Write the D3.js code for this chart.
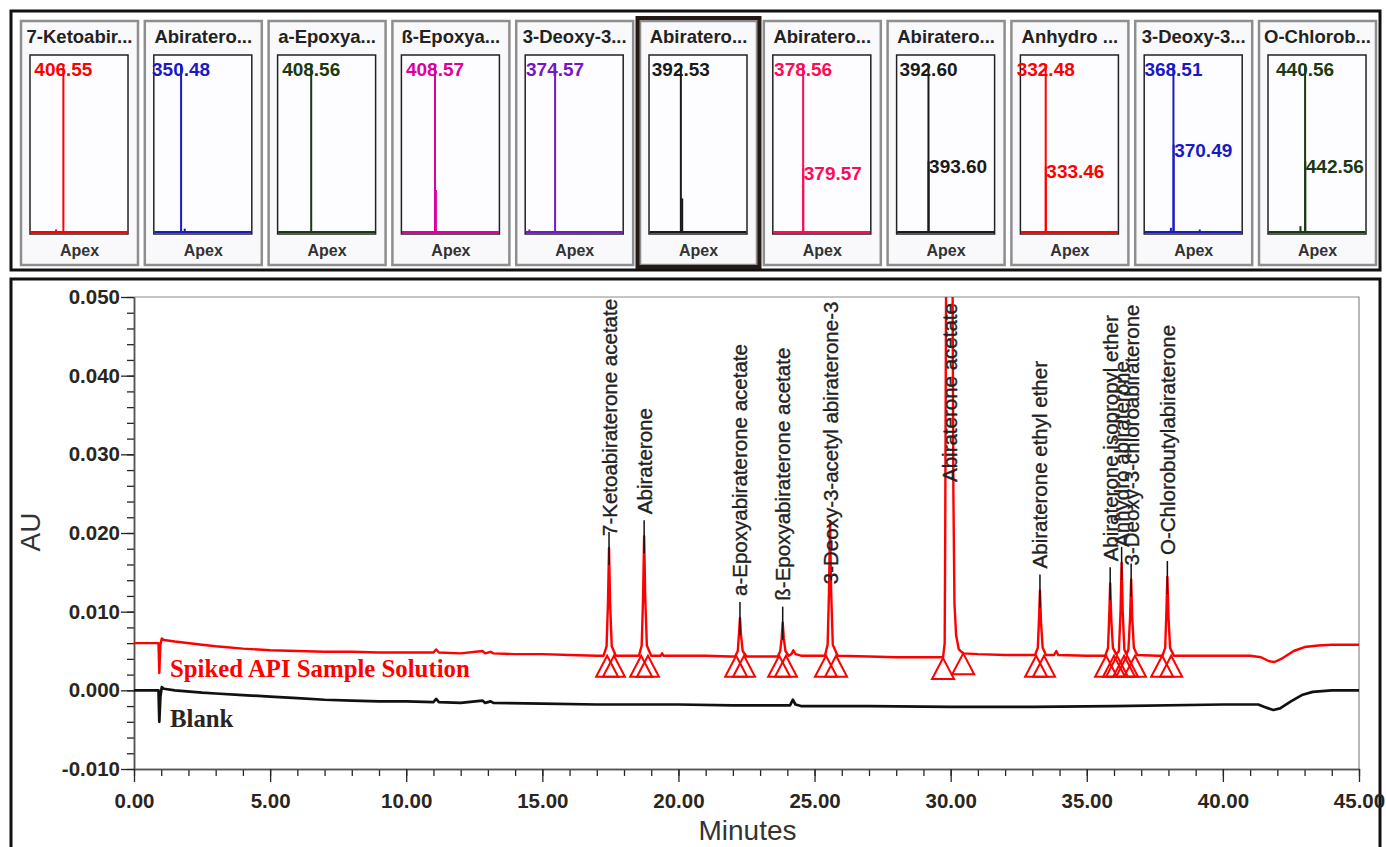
<!DOCTYPE html>
<html>
<head>
<meta charset="utf-8">
<script src="https://cdn.jsdelivr.net/npm/d3@7"></script>
<style>
  body { margin: 0; background: #fff; }
  svg { font-family: "Liberation Sans", Arial, sans-serif; }
</style>
</head>
<body>
<svg width="1386" height="847"></svg>
<script>
let svg = d3.select("svg");

// ---- spectra strip (top) ----
let spectrumTitles = ["7-Ketoabir...", "Abiratero...", "a-Epoxya...", "ß-Epoxya...", "3-Deoxy-3...",
    "Abiratero...", "Abiratero...", "Abiratero...", "Anhydro ...", "3-Deoxy-3...", "O-Chlorob..."];
let spectrumColors = ["#ff0000", "#1a1ac4", "#1c3a12", "#dc00a0", "#7418c4",
    "#1a1a1a", "#ff0a55", "#1a1a1a", "#ff0000", "#1a1ac4", "#1c3a12"];
// [m/z, relative intensity %]
let spectrumPeaks = [
    [[406.55, 100], [339, 1.5]],
    [[350.48, 100], [384, 2]],
    [[408.56, 100]],
    [[408.57, 100], [417, 25]],
    [[374.57, 100], [138, 1.5]],
    [[392.53, 100], [405, 20]],
    [[378.56, 100], [379.57, 38]],
    [[392.60, 100], [393.60, 42]],
    [[332.48, 100], [333.46, 39]],
    [[368.51, 100], [370.49, 52], [345, 2.5], [610, 1.5]],
    [[440.56, 100], [442.56, 42], [398, 3.5]]
];
let spectrumLabels = [
    [406.55], [350.48], [408.56], [408.57], [374.57], [392.53],
    [378.56, 379.57], [392.60, 393.60], [332.48, 333.46], [368.51, 370.49], [440.56, 442.56]
];
let mzRange = [100, 1000];
let selectedSpectrum = 5;

// ---- chromatogram (bottom) ----
let xTicks = [0, 5, 10, 15, 20, 25, 30, 35, 40, 45];
let yTicks = [-0.010, 0.000, 0.010, 0.020, 0.030, 0.040, 0.050];

let peakNames = ["7-Ketoabiraterone acetate", "Abiraterone", "a-Epoxyabiraterone acetate",
    "ß-Epoxyabiraterone acetate", "3-Deoxy-3-acetyl abiraterone-3", "Abiraterone acetate",
    "Abiraterone ethyl ether", "Abiraterone isopropyl ether", "Anhydro abiraterone",
    "3-Deoxy-3-chloroabiraterone", "O-Chlorobutylabiraterone"];
let peakTimes = [17.45, 18.74, 22.26, 23.83, 25.57, 29.95, 33.28, 35.86, 36.28, 36.63, 37.96];
let peakHeights = [0.0181, 0.0196, 0.0092, 0.0086, 0.0215, 0.25, 0.0127, 0.0136, 0.0162, 0.0141, 0.0144];
let peakStarts = [17.38, 18.63, 22.12, 23.70, 25.42, 29.72, 33.14, 35.71, 36.11, 36.48, 37.77];
let peakEnds = [17.63, 18.88, 22.41, 23.95, 25.79, 30.46, 33.43, 36.00, 36.37, 36.77, 38.10];
let startBase = [0.0044, 0.0044, 0.0044, 0.0044, 0.0044, 0.0041, 0.0044, 0.0044, 0.0044, 0.0044, 0.0044];
let endBase = [0.0044, 0.0044, 0.0044, 0.0044, 0.0044, 0.0047, 0.0044, 0.0044, 0.0044, 0.0044, 0.0044];

// Spiked API sample solution, [minutes, AU]
let sampleTrace = [
    [0, 0.0060], [0.5, 0.0060], [0.9, 0.0060], [0.93, 0.0022], [0.97, 0.0058], [1.02, 0.0066], [1.1, 0.0064],
    [1.5, 0.0062], [2.5, 0.0058], [3, 0.0056], [4, 0.0053], [5, 0.0051], [6, 0.0050], [7, 0.0049], [8, 0.0049],
    [9, 0.0048], [10, 0.0048], [11.0, 0.0048], [11.1, 0.0052], [11.2, 0.0048], [12, 0.0047], [12.8, 0.0050],
    [12.9, 0.0047], [13.1, 0.0049], [13.2, 0.0047], [14, 0.0046], [15, 0.0046], [16, 0.0045], [17, 0.0044],
    [17.25, 0.0044], [17.36, 0.0056], [17.41, 0.0110], [17.45, 0.0181], [17.49, 0.0110], [17.55, 0.0056], [17.7, 0.0044],
    [18.3, 0.0044],
    [18.55, 0.0044], [18.65, 0.0057], [18.70, 0.0118], [18.74, 0.0196], [18.78, 0.0118], [18.84, 0.0057], [19.0, 0.0044],
    [19.35, 0.0044], [19.4, 0.0047], [19.45, 0.0044], [20, 0.0044], [21, 0.0044], [21.9, 0.0043],
    [22.08, 0.0043], [22.18, 0.0050], [22.22, 0.0070], [22.26, 0.0092], [22.30, 0.0070], [22.36, 0.0050], [22.5, 0.0043],
    [23.4, 0.0043],
    [23.65, 0.0043], [23.74, 0.0050], [23.79, 0.0066], [23.83, 0.0086], [23.87, 0.0066], [23.93, 0.0050], [24.05, 0.0044],
    [24.15, 0.0046], [24.22, 0.0051], [24.3, 0.0046], [24.5, 0.0044], [25.1, 0.0044],
    [25.38, 0.0044], [25.48, 0.0058], [25.53, 0.0125], [25.57, 0.0215], [25.61, 0.0125], [25.67, 0.0058], [25.85, 0.0044],
    [27, 0.0043], [28, 0.0042], [29.5, 0.0042],
    [29.72, 0.0042], [29.78, 0.0060], [29.80, 0.0200], [29.84, 0.0600], [29.95, 0.2500], [30.06, 0.0600],
    [30.10, 0.0250], [30.14, 0.0110], [30.2, 0.0070], [30.3, 0.0052], [30.46, 0.0047],
    [31, 0.0046], [32, 0.0045], [33, 0.0045],
    [33.10, 0.0045], [33.20, 0.0054], [33.24, 0.0086], [33.28, 0.0127], [33.32, 0.0086], [33.38, 0.0054], [33.5, 0.0045],
    [33.8, 0.0045], [33.88, 0.0050], [33.95, 0.0045], [35, 0.0044],
    [35.68, 0.0044], [35.78, 0.0054], [35.82, 0.0090], [35.86, 0.0136], [35.90, 0.0090], [35.96, 0.0054], [36.08, 0.0046],
    [36.18, 0.0050], [36.24, 0.0100], [36.28, 0.0162], [36.32, 0.0100], [36.38, 0.0052], [36.46, 0.0046],
    [36.53, 0.0052], [36.59, 0.0092], [36.63, 0.0141], [36.67, 0.0092], [36.73, 0.0054], [36.85, 0.0045],
    [37.6, 0.0044],
    [37.78, 0.0044], [37.88, 0.0054], [37.92, 0.0094], [37.96, 0.0144], [38.00, 0.0094], [38.06, 0.0054], [38.2, 0.0044],
    [39, 0.0044], [40, 0.0044], [41, 0.0044], [41.4, 0.0042], [41.7, 0.0037], [41.9, 0.0036], [42.2, 0.0041],
    [42.6, 0.0050], [43.0, 0.0055], [43.5, 0.0057], [44, 0.0058], [45, 0.0058]
];
// Blank
let blankTrace = [
    [0, 0.0000], [0.9, 0.0000], [0.93, -0.0040], [0.97, -0.0008], [1.02, 0.0004], [1.1, 0.0002], [1.5, 0.0000],
    [2.5, -0.0003], [3, -0.0004], [4, -0.0006], [5, -0.0008], [6, -0.0010], [7, -0.0012], [8, -0.0013],
    [9, -0.0014], [10, -0.0014], [11.0, -0.0015], [11.1, -0.0011], [11.2, -0.0015], [12, -0.0016],
    [12.8, -0.0013], [12.9, -0.0016], [13.1, -0.0014], [13.2, -0.0016], [15, -0.0017], [17, -0.0018],
    [20, -0.0018], [22, -0.0019], [24.1, -0.0019], [24.2, -0.0012], [24.3, -0.0018], [24.5, -0.0020],
    [27, -0.0020], [30, -0.0021], [33, -0.0021], [36, -0.0020], [40, -0.0018], [41.3, -0.0018],
    [41.6, -0.0022], [41.85, -0.0025], [42.1, -0.0023], [42.5, -0.0014], [42.9, -0.0006], [43.3, -0.0002],
    [44, 0.0000], [45, 0.0000]
];


// ================= top strip =================
svg.append("rect")
    .attr("x", 11).attr("y", 11).attr("width", 1369).attr("height", 259)
    .attr("fill", "#fff").attr("stroke", "#111").attr("stroke-width", 3);

let band = d3.scaleBand()
    .domain(d3.range(spectrumTitles.length))
    .range([17.6, 1379.4])
    .paddingInner(0.055)
    .paddingOuter(0.0275);
let bw = band.bandwidth();
let intensity = d3.scaleLinear([0, 100], [232, 64]);

let boxes = svg.selectAll("g.spec")
    .data(spectrumTitles)
    .enter()
    .append("g")
    .attr("class", "spec")
    .attr("transform", (d, i) => `translate(${band(i)},0)`);

boxes.append("rect")
    .attr("x", 0).attr("y", 21).attr("width", bw).attr("height", 244)
    .attr("fill", "#f9f9fb").attr("stroke", "#8e8e8e").attr("stroke-width", 2.5);

boxes.append("text")
    .attr("x", bw / 2).attr("y", 43)
    .attr("text-anchor", "middle")
    .attr("font-size", 18.5).attr("font-weight", "bold").attr("fill", "#222")
    .text(d => d);

boxes.append("rect")
    .attr("x", 9).attr("y", 55).attr("width", 98).attr("height", 179)
    .attr("fill", "#fdfdff").attr("stroke", "#222").attr("stroke-width", 1.5);

boxes.append("text")
    .attr("x", bw / 2).attr("y", 256)
    .attr("text-anchor", "middle")
    .attr("font-size", 16).attr("font-weight", "bold").attr("fill", "#333")
    .text("Apex");

boxes.each(function (d, i) {
    let g = d3.select(this);
    let col = spectrumColors[i];
    let mz = d3.scaleLinear(mzRange, [9, 107]);

    g.append("line")
        .attr("x1", 9.5).attr("x2", 106.5)
        .attr("y1", intensity(0)).attr("y2", intensity(0))
        .attr("stroke", col).attr("stroke-width", 2);

    g.selectAll("line.pk")
        .data(spectrumPeaks[i])
        .enter()
        .append("line")
        .attr("class", "pk")
        .attr("x1", p => mz(p[0])).attr("x2", p => mz(p[0]))
        .attr("y1", intensity(0)).attr("y2", p => intensity(p[1]))
        .attr("stroke", col).attr("stroke-width", 2);

    spectrumLabels[i].forEach(function (m, k) {
        let p = spectrumPeaks[i].find(q => q[0] === m);
        g.append("text")
            .attr("x", k === 0 ? mz(m) : mz(m) + 0.5)
            .attr("y", intensity(p[1]) + 12)
            .attr("text-anchor", k === 0 ? "middle" : "start")
            .attr("font-size", 19).attr("font-weight", "bold").attr("fill", col)
            .text(m.toFixed(2));
    });
});

// selected spectrum gets a heavy frame
svg.append("rect")
    .attr("x", band(selectedSpectrum) - 2.5).attr("y", 18)
    .attr("width", bw + 5).attr("height", 249)
    .attr("fill", "none").attr("stroke", "#231a15").attr("stroke-width", 4);


// ================= chromatogram =================
svg.append("rect")
    .attr("x", 11).attr("y", 279).attr("width", 1369).attr("height", 620)
    .attr("fill", "#fff").attr("stroke", "#111").attr("stroke-width", 3);

let x = d3.scaleLinear([0, 45], [134, 1359]);
let y = d3.scaleLinear([-0.010, 0.050], [769, 297]);

// plot frame (top + right)
svg.append("path")
    .attr("d", `M${x(0)},${y(0.05)}H${x(45)}V${y(-0.01)}`)
    .attr("fill", "none").attr("stroke", "#8a8a8a").attr("stroke-width", 1.2);

function styleAxis(g) {
    g.attr("font-family", "Liberation Sans, Arial, sans-serif")
        .attr("font-size", 20.5)
        .attr("font-weight", "bold")
        .attr("color", "#2a2520");
    g.select(".domain").attr("stroke-width", 1.5).attr("stroke", "#555");
    g.selectAll(".tick line").attr("stroke-width", 1.3);
}

// y axis
svg.append("g")
    .attr("transform", `translate(${x(0)},0)`)
    .call(d3.axisLeft(y).tickValues(d3.range(-0.010, 0.0501, 0.002)).tickSize(7).tickSizeOuter(0).tickFormat(""))
    .call(styleAxis);
svg.append("g")
    .attr("transform", `translate(${x(0)},0)`)
    .call(d3.axisLeft(y).tickValues(yTicks).tickSize(13).tickSizeOuter(0).tickPadding(1).tickFormat(d => d.toFixed(3)))
    .call(styleAxis);

// x axis
svg.append("g")
    .attr("transform", `translate(0,${y(-0.01)})`)
    .call(d3.axisBottom(x).tickValues(d3.range(0, 45.01, 1)).tickSize(7).tickSizeOuter(0).tickFormat(""))
    .call(styleAxis);
svg.append("g")
    .attr("transform", `translate(0,${y(-0.01)})`)
    .call(d3.axisBottom(x).tickValues(xTicks).tickSize(13).tickSizeOuter(0).tickPadding(11).tickFormat(d => d.toFixed(2)))
    .call(styleAxis);

// axis titles
svg.append("text")
    .attr("transform", "translate(40,532) rotate(-90)")
    .attr("text-anchor", "middle")
    .attr("font-size", 28).attr("fill", "#333")
    .text("AU");
svg.append("text")
    .attr("x", (x(0) + x(45)) / 2 + 1).attr("y", 840)
    .attr("text-anchor", "middle")
    .attr("font-size", 28).attr("fill", "#333")
    .text("Minutes");

// traces
svg.append("clipPath").attr("id", "plotclip")
    .append("rect")
    .attr("x", x(0)).attr("y", y(0.05))
    .attr("width", x(45) - x(0)).attr("height", y(-0.01) - y(0.05));

let line = d3.line().x(d => x(d[0])).y(d => y(d[1]));
let traces = svg.append("g").attr("clip-path", "url(#plotclip)");
traces.append("path")
    .datum(blankTrace)
    .attr("d", line)
    .attr("fill", "none").attr("stroke", "#111").attr("stroke-width", 2.7).attr("stroke-linejoin", "round");
traces.append("path")
    .datum(sampleTrace)
    .attr("d", line)
    .attr("fill", "none").attr("stroke", "#ff0000").attr("stroke-width", 2.4).attr("stroke-linejoin", "round");

// peak start / end markers
let marks = [];
peakStarts.forEach((t, i) => marks.push([t, startBase[i]]));
peakEnds.forEach((t, i) => marks.push([t, endBase[i]]));
svg.append("g")
    .selectAll("path")
    .data(marks)
    .enter()
    .append("path")
    .attr("d", d => `M${x(d[0])},${y(d[1])}l-11,21h22z`)
    .attr("fill", "none").attr("stroke", "#ff0000").attr("stroke-width", 2);

// peak labels
let labelNudge = { 0: 10, 4: 85, 5: 207, 8: 6, 9: 8 };
let topAU = y.domain()[1];
let labels = svg.append("g");
peakNames.forEach(function (name, i) {
    let px = x(peakTimes[i]);
    let py = y(Math.min(peakHeights[i], topAU));
    if (i !== 4 && i !== 5) {
        labels.append("line")
            .attr("x1", px).attr("x2", px)
            .attr("y1", py - 16).attr("y2", py + 17)
            .attr("stroke", "#111").attr("stroke-width", 1.5);
    }
    labels.append("text")
        .attr("transform", `translate(${px + 7.5},${py - 22 + (labelNudge[i] || 0)}) rotate(-90)`)
        .attr("font-size", 20.5).attr("fill", "#222")
        .attr("stroke", "#222").attr("stroke-width", 0.35)
        .text(name);
});

// trace names
svg.append("text")
    .attr("x", 170).attr("y", 677)
    .style("font-family", "'Liberation Serif', 'Times New Roman', serif")
    .attr("font-size", 24.8).attr("font-weight", "bold").attr("fill", "#ff0000")
    .text("Spiked API Sample Solution");
svg.append("text")
    .attr("x", 170).attr("y", 727)
    .style("font-family", "'Liberation Serif', 'Times New Roman', serif")
    .attr("font-size", 24.8).attr("font-weight", "bold").attr("fill", "#2a2520")
    .text("Blank");
</script>
</body>
</html>
